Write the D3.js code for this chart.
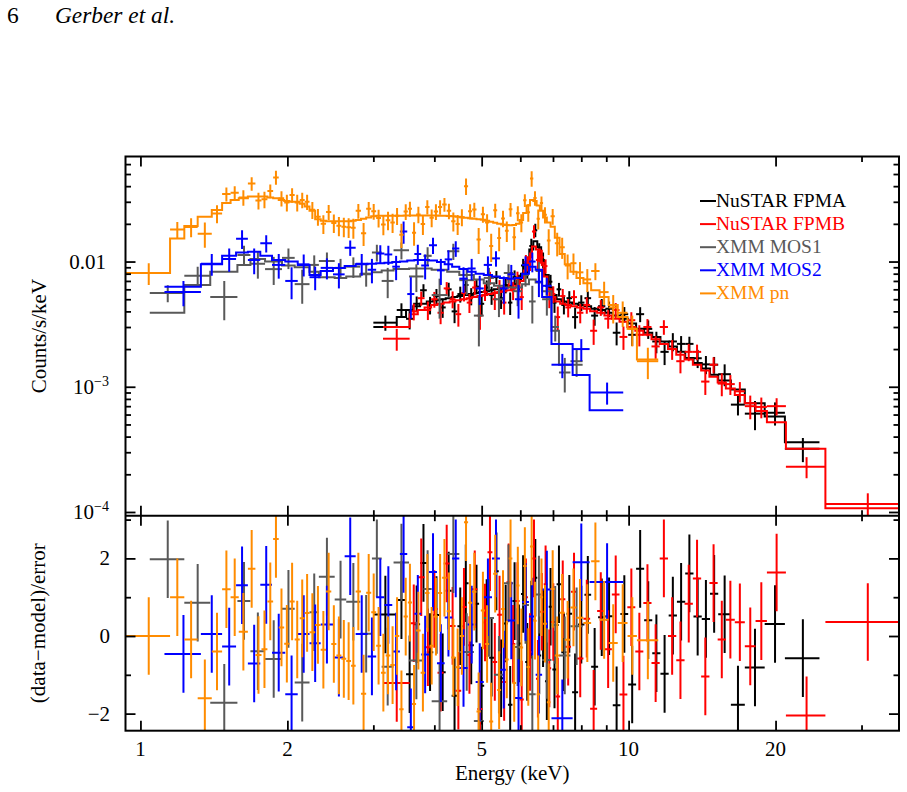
<!DOCTYPE html>
<html><head><meta charset="utf-8">
<script src="https://cdn.jsdelivr.net/npm/d3@7"></script>
<style>
body{margin:0;background:#fff}
svg text{font-family:"Liberation Serif","Times New Roman",serif}
</style>
</head><body>
<svg id="c" width="907" height="792"></svg>
<script>
// ---------------- DATA ----------------
// rows: [E_lo (keV), E_hi (keV), data (counts/s/keV), 1-sigma error, model]
const seriesNames = ["NuSTAR FPMA","NuSTAR FPMB","XMM MOS1","XMM MOS2","XMM pn"];
const seriesColors = ["#000000","#ff0000","#595959","#0000ff","#ff8c00"];

const fpmaBins = [
[3.00,3.35,0.00325,0.00045,0.0030],[3.35,3.50,0.0041,0.00054,0.0036],[3.50,3.62,0.00349,0.00062,0.0041],
[3.62,3.74,0.0046,0.00066,0.0044],[3.74,3.86,0.0059,0.00069,0.0046],[3.86,3.98,0.0045,0.00072,0.0048],
[3.98,4.10,0.0053,0.00074,0.0049],[4.10,4.22,0.0043,0.00075,0.0050],[4.22,4.34,0.0060,0.00077,0.0051],
[4.34,4.46,0.0040,0.00078,0.0052],[4.46,4.58,0.0055,0.0008,0.0053],[4.58,4.70,0.0065,0.00081,0.0054],
[4.70,4.82,0.0053,0.00083,0.0055],[4.82,4.94,0.0063,0.00084,0.0056],[4.94,5.06,0.0046,0.00086,0.0057],
[5.06,5.18,0.0062,0.00087,0.0058],[5.18,5.30,0.0054,0.00089,0.0059],[5.30,5.42,0.0075,0.0009,0.0060],
[5.42,5.54,0.0051,0.00092,0.0061],[5.54,5.66,0.0065,0.00093,0.0062],[5.66,5.78,0.0047,0.00096,0.0064],
[5.78,5.90,0.0075,0.001,0.0066],[5.90,6.02,0.0068,0.00105,0.0070],[6.02,6.14,0.0093,0.0012,0.0080],
[6.14,6.26,0.0088,0.0015,0.0098],[6.26,6.38,0.0133,0.0019,0.0125],[6.38,6.50,0.0178,0.0022,0.0145],
[6.50,6.62,0.0120,0.002,0.0130],[6.62,6.74,0.0103,0.0015,0.0100],[6.74,6.86,0.0064,0.0012,0.0078],
[6.86,6.98,0.0069,0.00093,0.0062],[6.98,7.12,0.0047,0.00081,0.0054],[7.12,7.28,0.0060,0.00075,0.0050],
[7.28,7.46,0.0045,0.00072,0.0048],[7.46,7.66,0.0051,0.0007,0.0047],[7.66,7.88,0.0036,0.00069,0.0046],
[7.88,8.12,0.0047,0.00068,0.0045],[8.12,8.38,0.0051,0.00066,0.0044],[8.38,8.66,0.0037,0.00063,0.0042],
[8.66,8.96,0.0044,0.00062,0.0041],[8.96,9.28,0.0042,0.00059,0.0039],[9.28,9.62,0.0027,0.00056,0.0037],
[9.62,9.98,0.0038,0.00053,0.0035],[9.98,10.36,0.0026,0.00048,0.0032],[10.36,10.76,0.0038,0.00052,0.0029],
[10.76,11.18,0.0029,0.00049,0.0027],[11.18,11.62,0.0023,0.00045,0.0025],[11.62,12.08,0.0019,0.00041,0.0023],
[12.08,12.56,0.0023,0.00038,0.0021],[12.56,13.06,0.0022,0.00034,0.0019],[13.06,13.58,0.0022,0.00031,0.0017],
[13.58,14.12,0.00169,0.00028,0.00155],[14.12,14.68,0.00151,0.00025,0.0014],[14.68,15.26,0.0015,0.00023,0.00125],
[15.26,16.2,0.00126,0.00025,0.00112],[16.2,17.3,0.00072,0.00013,0.00095],[17.3,19.0,0.00061,0.00016,0.00074],
[19.0,20.9,0.00062,0.00013,0.00058],[20.9,24.6,0.00032,0.00007,0.00036]
];

const fpmbBins = [
[3.14,3.56,0.00242,0.00048,0.0030],[3.56,3.70,0.0040,0.00061,0.0038],[3.70,3.82,0.0051,0.00066,0.0041],
[3.82,3.94,0.0041,0.00069,0.0043],[3.94,4.06,0.0050,0.00072,0.0045],[4.06,4.18,0.0039,0.00074,0.0046],
[4.18,4.30,0.0061,0.00075,0.0047],[4.30,4.42,0.0050,0.00077,0.0048],[4.42,4.54,0.0038,0.00078,0.0049],
[4.54,4.66,0.0056,0.0008,0.0050],[4.66,4.78,0.0047,0.00082,0.0051],[4.78,4.90,0.0062,0.00083,0.0052],
[4.90,5.02,0.0037,0.00085,0.0053],[5.02,5.14,0.0057,0.00086,0.0054],[5.14,5.26,0.0074,0.00088,0.0055],
[5.26,5.38,0.0050,0.0009,0.0056],[5.38,5.50,0.0062,0.00091,0.0057],[5.50,5.62,0.0047,0.00093,0.0058],
[5.62,5.74,0.0072,0.00094,0.0059],[5.74,5.86,0.0059,0.00098,0.0061],[5.86,5.98,0.0073,0.001,0.0064],
[5.98,6.10,0.0052,0.0011,0.0070],[6.10,6.22,0.0099,0.0014,0.0085],[6.22,6.34,0.0101,0.0017,0.0108],
[6.34,6.46,0.0174,0.0021,0.0132],[6.46,6.58,0.0103,0.002,0.0125],[6.58,6.70,0.0108,0.0016,0.0098],
[6.70,6.82,0.0092,0.0012,0.0076],[6.82,6.94,0.0052,0.00096,0.0060],[6.94,7.08,0.0055,0.00083,0.0052],
[7.08,7.24,0.0036,0.00077,0.0048],[7.24,7.42,0.0053,0.00074,0.0046],[7.42,7.62,0.0043,0.00072,0.0045],
[7.62,7.84,0.0052,0.0007,0.0044],[7.84,8.08,0.0039,0.00069,0.0043],[8.08,8.34,0.0045,0.00067,0.0042],
[8.34,8.62,0.0028,0.00064,0.0040],[8.62,8.92,0.0043,0.00062,0.0039],[8.92,9.24,0.0035,0.00059,0.0037],
[9.24,9.58,0.0041,0.00056,0.0035],[9.58,9.94,0.0025,0.00053,0.0033],[9.94,10.32,0.0034,0.00054,0.0030],
[10.32,10.72,0.0026,0.0005,0.0028],[10.72,11.14,0.0030,0.00047,0.0026],[11.14,11.58,0.0021,0.00043,0.0024],
[11.58,12.04,0.0030,0.0004,0.0022],[12.04,12.52,0.0020,0.00036,0.0020],[12.52,13.02,0.0016,0.00032,0.0018],
[13.02,13.54,0.0019,0.0003,0.00165],[13.54,14.08,0.0019,0.00027,0.0015],[14.08,14.64,0.0011,0.00024,0.00135],
[14.64,15.22,0.0015,0.00022,0.0012],[15.22,15.82,0.00106,0.00022,0.00108],[15.82,16.5,0.00105,0.00019,0.00097],
[16.5,17.3,0.00092,0.00017,0.00086],[17.3,18.2,0.0007,0.00015,0.00074],[18.2,19.2,0.00069,0.00013,0.00064],
[19.2,21.0,0.0007,0.00011,0.00052],[21.0,25.3,0.00023,0.000044,0.00032],[25.3,36.5,0.000116,0.000025,0.000107]
];

const mos1Bins = [
[1.045,1.23,0.0056,0.00086,0.0039],[1.23,1.39,0.0077,0.0014,0.0065],[1.39,1.58,0.0052,0.0018,0.0083],
[1.58,1.68,0.0113,0.0021,0.0094],[1.68,1.80,0.0096,0.0023,0.0105],[1.80,1.95,0.0087,0.0022,0.0100],
[1.95,2.07,0.0107,0.002,0.0093],[2.07,2.22,0.0066,0.002,0.0090],[2.22,2.32,0.0094,0.0018,0.0083],
[2.32,2.50,0.0101,0.0017,0.0075],[2.50,2.64,0.0089,0.0016,0.0074],[2.64,2.82,0.0091,0.0017,0.0076],
[2.82,2.98,0.0080,0.0017,0.0079],[2.98,3.12,0.0118,0.0018,0.0082],[3.12,3.30,0.0070,0.0019,0.0085],
[3.30,3.55,0.0123,0.0019,0.0087],[3.55,3.80,0.0076,0.0019,0.0088],[3.80,3.95,0.0111,0.0019,0.0088],
[3.95,4.25,0.0054,0.0019,0.0086],[4.25,4.50,0.0121,0.0018,0.0083],[4.50,4.82,0.0071,0.0017,0.0078],
[4.82,5.05,0.0037,0.0016,0.0072],[5.05,5.30,0.0074,0.0015,0.0067],[5.30,5.55,0.0050,0.0014,0.0064],
[5.55,5.80,0.0081,0.0014,0.0062],[5.80,6.05,0.0058,0.0014,0.0062],[6.05,6.25,0.0078,0.0015,0.0066],
[6.25,6.45,0.0048,0.0016,0.0072],[6.45,6.65,0.0084,0.0015,0.0068],[6.65,6.95,0.0050,0.0013,0.0058],
[6.95,7.20,0.0030,0.0007,0.0028],[7.20,7.60,0.0013,0.0004,0.0015],[7.60,8.05,0.0016,0.0004,0.0015]
];

const mos2Bins = [
[1.12,1.33,0.0057,0.0013,0.0063],[1.33,1.47,0.0096,0.0019,0.0095],[1.47,1.57,0.0105,0.0022,0.0111],
[1.57,1.66,0.0152,0.0026,0.0118],[1.66,1.76,0.0103,0.0024,0.0120],[1.76,1.86,0.0140,0.0022,0.0111],
[1.86,1.98,0.0094,0.0021,0.0103],[1.98,2.10,0.0070,0.002,0.0100],[2.10,2.22,0.0095,0.0019,0.0094],
[2.22,2.34,0.0075,0.0016,0.0078],[2.34,2.48,0.0089,0.0017,0.0084],[2.48,2.62,0.0079,0.0018,0.0089],
[2.62,2.76,0.0129,0.0018,0.0092],[2.76,2.92,0.0096,0.0019,0.0095],[2.92,3.04,0.0086,0.0019,0.0096],
[3.04,3.16,0.0116,0.0019,0.0097],[3.16,3.28,0.0114,0.002,0.0098],[3.28,3.40,0.0091,0.002,0.0099],
[3.40,3.52,0.0174,0.0035,0.0100],[3.52,3.64,0.0055,0.002,0.0102],[3.64,3.76,0.0115,0.0021,0.0103],
[3.76,3.90,0.0093,0.0021,0.0103],[3.90,4.05,0.0135,0.002,0.0102],[4.05,4.20,0.0085,0.002,0.0099],
[4.20,4.35,0.0104,0.0019,0.0095],[4.35,4.50,0.0127,0.0018,0.0091],[4.50,4.68,0.0073,0.0017,0.0087],
[4.68,4.86,0.0088,0.0017,0.0083],[4.86,5.05,0.0061,0.0016,0.0080],[5.05,5.25,0.0094,0.0016,0.0078],
[5.25,5.45,0.0106,0.0015,0.0076],[5.45,5.65,0.0061,0.0015,0.0074],[5.65,5.85,0.0079,0.0015,0.0073],
[5.85,6.05,0.0050,0.0015,0.0074],[6.05,6.25,0.0094,0.0016,0.0080],[6.25,6.45,0.0100,0.0018,0.0091],
[6.45,6.65,0.0069,0.0017,0.0086],[6.65,6.95,0.0064,0.001,0.0052],[6.95,7.68,0.0015,0.00033,0.0022],
[7.68,8.32,0.0020,0.0004,0.00124],[8.32,9.75,0.0009,0.00018,0.00065]
];

const pnBins = [
[0.93,1.15,0.0081,0.0016,0.0081],[1.15,1.23,0.018,0.0027,0.0153],[1.23,1.31,0.0189,0.0033,0.0192],
[1.31,1.40,0.0167,0.0038,0.0228],[1.40,1.47,0.0242,0.004,0.0258],[1.47,1.53,0.0346,0.0044,0.0293],
[1.53,1.59,0.0355,0.0045,0.031],[1.59,1.66,0.0325,0.0046,0.032],[1.66,1.72,0.042,0.0052,0.033],
[1.72,1.77,0.0307,0.0047,0.033],[1.77,1.82,0.0314,0.0047,0.033],[1.82,1.87,0.0366,0.0046,0.0325],
[1.87,1.92,0.047,0.006,0.032],[1.92,1.97,0.032,0.0045,0.031],[1.97,2.02,0.0296,0.0045,0.0305],
[2.02,2.07,0.034,0.0045,0.030],[2.07,2.12,0.0296,0.0045,0.030],[2.12,2.17,0.031,0.0044,0.029],
[2.17,2.22,0.030,0.0042,0.0275],[2.22,2.28,0.0259,0.004,0.0255],[2.28,2.34,0.0228,0.0035,0.0218],
[2.34,2.40,0.020,0.0034,0.0212],[2.40,2.46,0.0249,0.0034,0.021],[2.46,2.52,0.0203,0.0034,0.021],
[2.52,2.58,0.0193,0.0034,0.021],[2.58,2.64,0.019,0.0034,0.021],[2.64,2.70,0.0188,0.0034,0.021],
[2.70,2.76,0.0186,0.0034,0.0212],[2.76,2.83,0.0254,0.0034,0.0215],[2.83,2.90,0.0168,0.0035,0.022],
[2.90,2.97,0.0264,0.0035,0.0225],[2.97,3.04,0.0252,0.0036,0.023],[3.04,3.11,0.0223,0.0036,0.0232],
[3.11,3.18,0.0198,0.0036,0.0232],[3.18,3.25,0.0214,0.0036,0.0232],[3.25,3.32,0.0205,0.0036,0.0232],
[3.32,3.39,0.0232,0.0036,0.0232],[3.39,3.46,0.0164,0.0036,0.0232],[3.46,3.53,0.0251,0.0036,0.0233],
[3.53,3.60,0.0264,0.0036,0.0233],[3.60,3.67,0.017,0.0036,0.0233],[3.67,3.75,0.0238,0.0036,0.0233],
[3.75,3.83,0.0199,0.0036,0.0233],[3.83,3.91,0.0273,0.0036,0.0233],[3.91,3.99,0.0224,0.0036,0.0233],
[3.99,4.07,0.0251,0.0036,0.0233],[4.07,4.15,0.0272,0.0036,0.0232],[4.15,4.24,0.0286,0.0036,0.0232],
[4.24,4.33,0.0254,0.0036,0.0231],[4.33,4.42,0.021,0.0036,0.023],[4.42,4.51,0.0199,0.0036,0.0228],
[4.51,4.60,0.0226,0.0035,0.0226],[4.60,4.69,0.040,0.006,0.0224],[4.69,4.78,0.0252,0.0035,0.0222],
[4.78,4.88,0.026,0.0035,0.022],[4.88,4.98,0.015,0.0035,0.0218],[4.98,5.08,0.0239,0.0035,0.0216],
[5.08,5.18,0.0205,0.0034,0.0212],[5.18,5.28,0.0133,0.0034,0.0208],[5.28,5.38,0.0257,0.0033,0.0204],
[5.38,5.48,0.0154,0.0033,0.020],[5.48,5.58,0.0221,0.0033,0.0198],[5.58,5.68,0.0176,0.0033,0.0196],
[5.68,5.78,0.0261,0.0033,0.0195],[5.78,5.88,0.0156,0.0033,0.0196],[5.88,5.98,0.0243,0.0033,0.020],
[5.98,6.08,0.0205,0.0034,0.0215],[6.08,6.18,0.0309,0.0036,0.0244],[6.18,6.28,0.0248,0.004,0.028],
[6.28,6.38,0.046,0.0065,0.031],[6.38,6.48,0.0322,0.0043,0.0305],[6.48,6.58,0.022,0.004,0.028],
[6.58,6.68,0.0293,0.0038,0.0255],[6.68,6.80,0.0236,0.0035,0.0225],[6.80,6.92,0.0147,0.0034,0.0205],
[6.92,7.06,0.023,0.0033,0.019],[7.06,7.22,0.014,0.003,0.0155],[7.22,7.40,0.013,0.0025,0.0115],
[7.40,7.60,0.0093,0.0021,0.0095],[7.60,7.82,0.0097,0.0019,0.0083],[7.82,8.08,0.0082,0.0017,0.0074],
[8.08,8.38,0.0072,0.0015,0.0067],[8.38,8.72,0.0084,0.0013,0.0059],[8.72,9.10,0.0057,0.0012,0.0052],
[9.10,9.50,0.0043,0.0011,0.0045],[9.50,9.95,0.0039,0.0009,0.0036],[9.95,10.4,0.0029,0.0008,0.0029],
[10.4,11.5,0.0016,0.00045,0.00165]
];

const xMajorTicks = [1,2,5,10,20];
const xMinorTicks = [3,4,6,7,8,9,30];
const yMajorTicks = [1e-4,1e-3,1e-2];
const yMinorTicks = [2e-4,3e-4,4e-4,5e-4,6e-4,7e-4,8e-4,9e-4,2e-3,3e-3,4e-3,5e-3,6e-3,7e-3,8e-3,9e-3,0.02,0.03,0.04,0.05,0.06];
const yTickLabels = [["10","\u22124"],["10","\u22123"],["0.01",""]];
const rMajorTicks = [-2,0,2];
const rMinorTicks = [-1,1,3];
const rTickLabels = ["\u22122","0","2"];

// ---------------- LAYOUT ----------------
const X0=125.5, X1=899, Y0=156.5, YM=515.7, Y1=730.7;
const svg = d3.select("#c");
const x = d3.scaleLog().domain([0.932,35.8]).range([X0,X1]);
const yTop = d3.scaleLog().domain([0.934e-4,0.069]).range([YM,Y0]);
const yRes = d3.scaleLinear().domain([-2.44,3.1]).range([Y1,YM]);

const defs = svg.append("defs");
defs.append("clipPath").attr("id","clipTop").append("rect").attr("x",X0).attr("y",Y0).attr("width",X1-X0).attr("height",YM-Y0);
defs.append("clipPath").attr("id","clipRes").append("rect").attr("x",X0).attr("y",YM).attr("width",X1-X0).attr("height",Y1-YM);

const series = [fpmaBins,fpmbBins,mos1Bins,mos2Bins,pnBins].map((b,i)=>({name:seriesNames[i],color:seriesColors[i],bins:b}));

const topG = svg.append("g").attr("clip-path","url(#clipTop)");
const resG = svg.append("g").attr("clip-path","url(#clipRes)");
const LW = 2;
const stepLine = d3.line().x(d=>x(d[0])).y(d=>yTop(d[1])).curve(d3.curveStepAfter);

series.forEach(s=>{
  const g = topG.append("g").attr("stroke",s.color).attr("stroke-width",LW).attr("fill","none");
  const pts = s.bins.map(b=>[b[0],b[4]]);
  const last = s.bins[s.bins.length-1];
  pts.push([last[1],last[4]]);
  g.append("path").attr("d",stepLine(pts));
  g.append("g").selectAll("line").data(s.bins).join("line")
    .attr("x1",b=>x(b[0])).attr("x2",b=>x(b[1]))
    .attr("y1",b=>yTop(b[2])).attr("y2",b=>yTop(b[2]));
  g.append("g").selectAll("line").data(s.bins).join("line")
    .attr("x1",b=>x((b[0]+b[1])/2)).attr("x2",b=>x((b[0]+b[1])/2))
    .attr("y1",b=>yTop(Math.max(b[2]-b[3],1e-6))).attr("y2",b=>yTop(b[2]+b[3]));

  const rg = resG.append("g").attr("stroke",s.color).attr("stroke-width",LW).attr("fill","none");
  const res = s.bins.map(b=>({lo:b[0],hi:b[1],r:(b[2]-b[4])/b[3]}));
  rg.append("g").selectAll("line").data(res).join("line")
    .attr("x1",d=>x(d.lo)).attr("x2",d=>x(d.hi))
    .attr("y1",d=>yRes(d.r)).attr("y2",d=>yRes(d.r));
  rg.append("g").selectAll("line").data(res).join("line")
    .attr("x1",d=>x((d.lo+d.hi)/2)).attr("x2",d=>x((d.lo+d.hi)/2))
    .attr("y1",d=>yRes(d.r-1)).attr("y2",d=>yRes(d.r+1));
});

// ---------------- AXES / TICKS ----------------
const MAJ=10, MIN=5.5;
function ticks(gen, scale, vals, len, tx, ty){
  const inDom = vals.filter(v=>{const d=scale.domain();return v>=Math.min(d[0],d[1])&&v<=Math.max(d[0],d[1]);});
  const g = svg.append("g").attr("transform",`translate(${tx},${ty})`)
    .call(gen(scale).tickValues(inDom).tickSize(-len).tickFormat(""));
  g.select(".domain").remove();
  g.selectAll("line").attr("stroke","#000").attr("stroke-width",1.8);
}
[[xMajorTicks,MAJ],[xMinorTicks,MIN]].forEach(([v,l])=>{
  ticks(d3.axisTop,x,v,l,0,Y0);
  ticks(d3.axisBottom,x,v,l,0,YM);
  ticks(d3.axisTop,x,v,l,0,YM);
  ticks(d3.axisBottom,x,v,l,0,Y1);
});
[[yMajorTicks,MAJ],[yMinorTicks,MIN]].forEach(([v,l])=>{
  ticks(d3.axisLeft,yTop,v,l,X0,0);
  ticks(d3.axisRight,yTop,v,l,X1,0);
});
[[rMajorTicks,MAJ],[rMinorTicks,MIN]].forEach(([v,l])=>{
  ticks(d3.axisLeft,yRes,v,l,X0,0);
  ticks(d3.axisRight,yRes,v,l,X1,0);
});

// frame
svg.append("rect").attr("x",X0).attr("y",Y0).attr("width",X1-X0).attr("height",Y1-Y0)
  .attr("fill","none").attr("stroke","#000").attr("stroke-width",2);
svg.append("line").attr("x1",X0).attr("x2",X1).attr("y1",YM).attr("y2",YM)
  .attr("stroke","#000").attr("stroke-width",2);

// ---------------- TEXT ----------------
const FS = 21;
svg.append("g").selectAll("text").data(xMajorTicks).join("text")
  .attr("x",d=>x(d)).attr("y",756).attr("text-anchor","middle").attr("font-size",FS).text(d=>d);

yMajorTicks.forEach((v,i)=>{
  const lab = yTickLabels[i];
  const t = svg.append("text").attr("text-anchor","end").attr("font-size",FS)
    .attr("x", lab[1] ? 109 : 106).attr("y",yTop(v)+7);
  t.append("tspan").text(lab[0]);
  if(lab[1]) t.append("tspan").attr("dy",-8).attr("font-size",14).text(lab[1]);
});
svg.append("g").selectAll("text").data(rMajorTicks).join("text")
  .attr("x",110).attr("y",d=>yRes(d)+7).attr("text-anchor","end").attr("font-size",FS)
  .text((d,i)=>rTickLabels[i]);

svg.append("text").attr("transform",`translate(46,${(Y0+YM)/2}) rotate(-90)`)
  .attr("text-anchor","middle").attr("font-size",FS).text("Counts/s/keV");
svg.append("text").attr("transform",`translate(45,${(YM+Y1)/2}) rotate(-90)`)
  .attr("text-anchor","middle").attr("font-size",FS).text("(data\u2212model)/error");
svg.append("text").attr("x",(X0+X1)/2).attr("y",780).attr("text-anchor","middle")
  .attr("font-size",FS).text("Energy (keV)");

// header
svg.append("text").attr("x",7).attr("y",23).attr("font-size",23.5).text("6");
svg.append("text").attr("x",55).attr("y",23).attr("font-size",23.5).attr("font-style","italic")
  .attr("textLength",120).attr("lengthAdjust","spacingAndGlyphs").text("Gerber et al.");

// legend
const lg = svg.append("g");
series.forEach((s,i)=>{
  const by = 206.5 + i*23.1;
  lg.append("line").attr("x1",700).attr("x2",716).attr("y1",by-5.5).attr("y2",by-5.5)
    .attr("stroke",s.color).attr("stroke-width",LW);
  lg.append("text").attr("x",716).attr("y",by).attr("font-size",19.5).attr("fill",s.color).text(s.name);
});
</script>
</body></html>
